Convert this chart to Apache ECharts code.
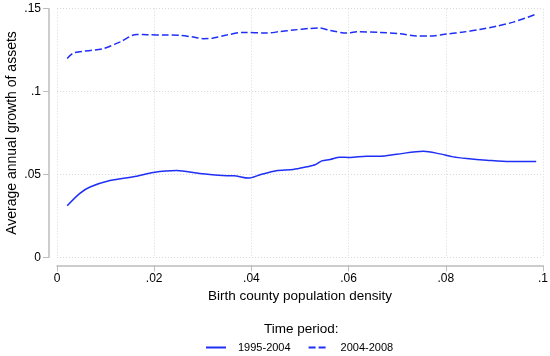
<!DOCTYPE html>
<html><head><meta charset="utf-8">
<script src="https://cdn.jsdelivr.net/npm/echarts@6/dist/echarts.min.js"></script>
<style>html,body{margin:0;padding:0;background:#fff}#c{width:550px;height:356px}</style>
</head><body><div id="c"></div>
<script>
// density (x) values and annual growth values
const xA = [0.0021,0.0047,0.0068,0.0109,0.0164,0.0198,0.0246,0.0294,0.0349,0.0363,0.0394,0.0418,0.0451,0.0486,0.0514,0.0531,0.0545,0.0562,0.0582,0.0603,0.0637,0.0665,0.0699,0.0754,0.0788,0.0815,0.0843,0.0884,0.0932,0.0986];
const yA = [0.0311,0.0386,0.0424,0.0463,0.0489,0.0512,0.0524,0.0506,0.0492,0.0492,0.0478,0.0498,0.0522,0.0530,0.0546,0.0558,0.0582,0.0590,0.0604,0.0602,0.0610,0.0610,0.0622,0.0640,0.0624,0.0606,0.0596,0.0586,0.0578,0.0578];
const xB = [0.0021,0.0034,0.0095,0.0130,0.0164,0.0185,0.0225,0.0253,0.0280,0.0301,0.0322,0.0349,0.0383,0.0431,0.0459,0.0486,0.0521,0.0541,0.0562,0.0596,0.0617,0.0665,0.0706,0.0740,0.0767,0.0802,0.0836,0.0870,0.0905,0.0939,0.0986];
const yB = [0.1200,0.1233,0.1259,0.1300,0.1345,0.1343,0.1341,0.1339,0.1329,0.1319,0.1323,0.1341,0.1357,0.1353,0.1362,0.1371,0.1381,0.1383,0.1369,0.1353,0.1361,0.1357,0.1349,0.1335,0.1335,0.1347,0.1359,0.1375,0.1395,0.1419,0.1467];
const seriesNames = ['1995-2004','2004-2008'];
const xTickLabels = {0:'0',0.02:'.02',0.04:'.04',0.06:'.06',0.08:'.08',0.1:'.1'};
const yTickLabels = {0:'0',0.05:'.05',0.1:'.1',0.15:'.15'};
const xTitle = 'Birth county population density';
const yTitle = 'Average annual growth of assets';
const legendTitle = 'Time period:';

const blue = '#1f2ff5';
const font = 'Liberation Sans, Arial, Helvetica, sans-serif';
const pairs = (xs, ys) => xs.map((x, i) => [x, ys[i]]);
const fmt = (map) => (v) => { const k = Math.round(v*1000)/1000; return map[k] !== undefined ? map[k] : ''; };

const chart = echarts.init(document.getElementById('c'), null, {renderer:'canvas'});
chart.setOption({
  backgroundColor:'#fff',
  animation:false,
  grid:{left:57, right:7, top:8.7, bottom:98.7, containLabel:false, outerBoundsMode:'none'},
  title:{text:legendTitle, left:264, top:322, padding:0,
    textStyle:{fontFamily:font, fontSize:13.5, fontWeight:'normal', color:'#000'}},
  legend:{top:342, left:205, itemWidth:20, itemHeight:10, itemGap:17, padding:0,
    textStyle:{fontFamily:font, fontSize:11, color:'#000', padding:[0,0,0,7]},
    data:seriesNames.map(n=>({name:n, itemStyle:{opacity:0}}))},
  xAxis:{type:'value', min:0, max:0.1, interval:0.02, offset:8,
    name:xTitle, nameLocation:'middle', nameGap:20,
    nameTextStyle:{fontFamily:font, fontSize:13.5, color:'#000'},
    axisLine:{show:true, onZero:false, lineStyle:{color:'#bcbcbc', width:1.5}},
    axisTick:{show:true, length:6, lineStyle:{color:'#bcbcbc'}},
    axisLabel:{formatter:fmt(xTickLabels), fontFamily:font, fontSize:12, color:'#000', margin:7},
    splitLine:{show:true, lineStyle:{color:'#d8d8d8', type:[1,2], width:1}}},
  yAxis:{type:'value', min:0, max:0.15, interval:0.05, offset:8,
    name:yTitle, nameLocation:'middle', nameGap:30, nameRotate:90, nameMoveOverlap:false,
    nameTextStyle:{fontFamily:font, fontSize:14, color:'#000'},
    axisLine:{show:true, onZero:false, lineStyle:{color:'#bcbcbc', width:1.5}},
    axisTick:{show:true, length:6, lineStyle:{color:'#bcbcbc'}},
    axisLabel:{formatter:fmt(yTickLabels), fontFamily:font, fontSize:12, color:'#000', margin:8},
    splitLine:{show:true, lineStyle:{color:'#d8d8d8', type:[1,2], width:1}}},
  series:[
    {name:seriesNames[0], type:'line', data:pairs(xA,yA), symbol:'none', smooth:0.3,
      color:blue, lineStyle:{color:blue, width:1.5}},
    {name:seriesNames[1], type:'line', data:pairs(xB,yB), symbol:'none', smooth:0.3,
      color:blue, lineStyle:{color:blue, width:1.5, type:[7,3]}}
  ]
});
</script></body></html>
